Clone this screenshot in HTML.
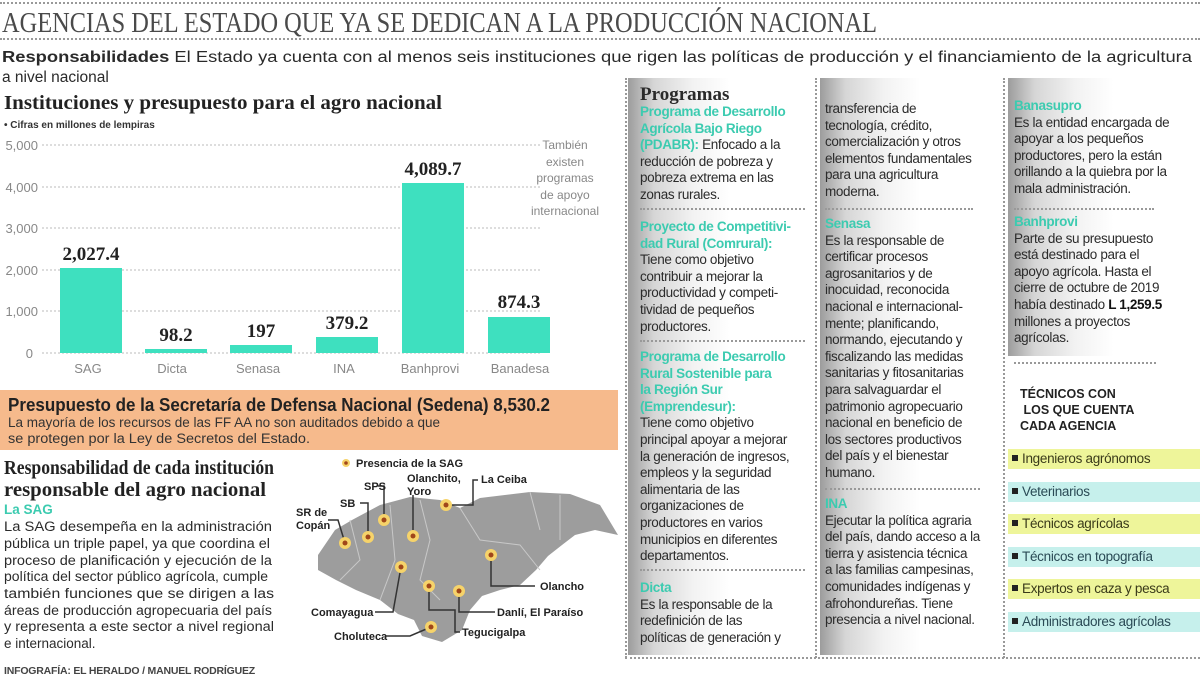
<!DOCTYPE html>
<html><head><meta charset="utf-8">
<style>
*{margin:0;padding:0;box-sizing:border-box}
body{width:1200px;height:682px;overflow:hidden;background:#fff;font-family:"Liberation Sans",sans-serif;color:#2a2a2a;position:relative}
.a{position:absolute;white-space:nowrap}
.t{font-size:13.5px;line-height:16.6px;letter-spacing:-0.35px;color:#2b2b2b}
.g{color:#3ccbb0;font-weight:bold}
.dot{position:absolute;border-top:2px dotted #999;height:0}
.vd{position:absolute;border-left:2px dotted #999;width:0}
.col{position:absolute;top:78px;height:577px;background:linear-gradient(90deg,#9c9c9c 0%,#d6d6d6 14%,#f2f2f2 35%,#fff 55%)}
.serif{font-family:"Liberation Serif",serif;font-weight:bold}
.hl{position:absolute;left:1008px;width:192px;height:20px;font-size:13.5px;line-height:20px;padding-left:4px;letter-spacing:-0.3px}
.hl b{display:inline-block;width:6px;height:6px;background:#222;margin-right:4px;vertical-align:2px}
</style></head><body>

<div class="dot" style="left:0;top:2px;width:1200px"></div>
<svg class="a" style="left:0;top:4px" width="900" height="34"><text x="2" y="28" font-family="Liberation Serif,serif" font-size="29" fill="#4a4a4a" textLength="875" lengthAdjust="spacingAndGlyphs">AGENCIAS DEL ESTADO QUE YA SE DEDICAN A LA PRODUCCIÓN NACIONAL</text></svg>
<div class="dot" style="left:0;top:38px;width:1200px"></div>

<svg class="a" style="left:0;top:46px" width="1200" height="42"><text x="2" y="16" font-size="15.5" fill="#2a2a2a" font-family="Liberation Sans,sans-serif" textLength="1190" lengthAdjust="spacingAndGlyphs"><tspan font-weight="bold">Responsabilidades</tspan> El Estado ya cuenta con al menos seis instituciones que rigen las políticas de producción y el financiamiento de la agricultura</text><text x="2" y="36" font-size="15.5" fill="#2a2a2a" font-family="Liberation Sans,sans-serif">a nivel nacional</text></svg>

<!-- chart -->
<svg class="a" style="left:0;top:88px" width="620" height="300" font-family="Liberation Sans,sans-serif">
<text x="4" y="21" font-family="Liberation Serif,serif" font-weight="bold" font-size="20" fill="#222" textLength="438" lengthAdjust="spacingAndGlyphs">Instituciones y presupuesto para el agro nacional</text>
<text x="4" y="40" font-size="10" font-weight="bold" fill="#333">• Cifras en millones de lempiras</text>
<g stroke="#bbb" stroke-dasharray="2,2" stroke-width="1">
<line x1="42" y1="57" x2="540" y2="57"/><line x1="42" y1="99" x2="540" y2="99"/><line x1="42" y1="140" x2="540" y2="140"/><line x1="42" y1="182" x2="540" y2="182"/><line x1="42" y1="223" x2="540" y2="223"/><line x1="42" y1="265" x2="540" y2="265"/></g>
<g font-size="13" fill="#888" text-anchor="end"><text x="38" y="62">5,000</text><text x="38" y="104">4,000</text><text x="38" y="145">3,000</text><text x="38" y="187">2,000</text><text x="38" y="228">1,000</text><text x="33" y="270">0</text></g>
<g fill="#3ee0bf">
<rect x="60" y="180" width="62" height="85"/><rect x="145" y="261" width="62" height="4"/><rect x="230" y="257" width="62" height="8"/><rect x="316" y="249" width="62" height="16"/><rect x="402" y="95" width="62" height="170"/><rect x="488" y="229" width="62" height="36"/></g>
<g font-family="Liberation Serif,serif" font-weight="bold" font-size="19" fill="#222" text-anchor="middle">
<text x="91" y="172">2,027.4</text><text x="176" y="253">98.2</text><text x="261" y="249">197</text><text x="347" y="241">379.2</text><text x="433" y="87">4,089.7</text><text x="519" y="220">874.3</text></g>
<g font-size="13" fill="#888" text-anchor="middle">
<text x="88" y="285">SAG</text><text x="172" y="285">Dicta</text><text x="258" y="285">Senasa</text><text x="344" y="285">INA</text><text x="430" y="285">Banhprovi</text><text x="520" y="285">Banadesa</text></g>
<g font-size="12" fill="#888" text-anchor="middle">
<text x="565" y="61">También</text><text x="565" y="78">existen</text><text x="565" y="94">programas</text><text x="565" y="111">de apoyo</text><text x="565" y="127">internacional</text></g>
</svg>

<!-- orange box -->
<div class="a" style="left:0;top:390px;width:618px;height:60px;background:#f6ba8c"></div>
<svg class="a" style="left:0;top:390px" width="618" height="60" font-family="Liberation Sans,sans-serif">
<text x="8" y="21" font-weight="bold" font-size="18" fill="#222" textLength="542" lengthAdjust="spacingAndGlyphs">Presupuesto de la Secretaría de Defensa Nacional (Sedena) 8,530.2</text>
<text x="8" y="37" font-size="13.5" fill="#333" textLength="432" lengthAdjust="spacingAndGlyphs">La mayoría de los recursos de las FF AA no son auditados debido a que</text>
<text x="8" y="53" font-size="13.5" fill="#333" textLength="302" lengthAdjust="spacingAndGlyphs">se protegen por la Ley de Secretos del Estado.</text>
</svg>

<svg class="a" style="left:0;top:455px" width="300" height="200" font-family="Liberation Sans,sans-serif">
<text x="4" y="19" font-family="Liberation Serif,serif" font-weight="bold" font-size="20" fill="#222" textLength="270" lengthAdjust="spacingAndGlyphs">Responsabilidad de cada institución</text>
<text x="4" y="41" font-family="Liberation Serif,serif" font-weight="bold" font-size="20" fill="#222" textLength="262" lengthAdjust="spacingAndGlyphs">responsable del agro nacional</text>
<text x="4" y="59" font-size="13.5" font-weight="bold" fill="#3ccbb0">La SAG</text>
<g font-size="13.5" fill="#2b2b2b">
<text x="4" y="76" textLength="268" lengthAdjust="spacingAndGlyphs">La SAG desempeña en la administración</text>
<text x="4" y="93" textLength="266" lengthAdjust="spacingAndGlyphs">pública un triple papel, ya que coordina el</text>
<text x="4" y="110" textLength="268" lengthAdjust="spacingAndGlyphs">proceso de planificación y ejecución de la</text>
<text x="4" y="126" textLength="264" lengthAdjust="spacingAndGlyphs">política del sector público agrícola, cumple</text>
<text x="4" y="143" textLength="270" lengthAdjust="spacingAndGlyphs">también funciones que se dirigen a las</text>
<text x="4" y="160" textLength="268" lengthAdjust="spacingAndGlyphs">áreas de producción agropecuaria del país</text>
<text x="4" y="176" textLength="270" lengthAdjust="spacingAndGlyphs">y representa a este sector a nivel regional</text>
<text x="4" y="193">e internacional.</text></g>
</svg>

<!-- map -->
<svg class="a" style="left:0;top:0" width="620" height="682" font-family="Liberation Sans,sans-serif">
<polygon fill="#9d9d9d" points="318,555 335,530 352,520 380,505 410,497 440,500 460,508 480,498 530,492 570,494 600,505 618,535 595,530 575,535 562,545 548,556 536,570 520,585 500,590 482,596 470,610 462,630 442,642 422,636 414,620 398,614 380,600 356,590 336,580 318,570"/>
<g stroke="#c8c8c8" stroke-width="1" fill="none"><path d="M350,520 L360,560 L340,580"/><path d="M390,505 L395,560 L380,600"/><path d="M420,500 L430,540 L420,580 L440,600"/><path d="M460,508 L480,540 L520,545 L540,570"/><path d="M530,492 L540,530"/><path d="M560,495 L560,540"/></g>
<g stroke="#333" stroke-width="1.5" fill="none">
<polyline points="345,543 338,520 328,520"/><polyline points="368,537 368,503 360,503"/><polyline points="384,520 384,486 378,486"/><polyline points="413,536 413,495"/><polyline points="446,505 473,505 473,480 478,480"/><polyline points="401,567 393,612 375,612"/><polyline points="429,586 429,610 455,610 455,632 460,632"/><polyline points="459,591 459,612 495,612"/><polyline points="491,555 491,586 535,586"/><polyline points="431,627 410,636 385,636"/></g>
<g><circle cx="345" cy="543" r="6" fill="#f6d36a"/><circle cx="368" cy="537" r="6" fill="#f6d36a"/><circle cx="384" cy="520" r="6" fill="#f6d36a"/><circle cx="413" cy="536" r="6" fill="#f6d36a"/><circle cx="446" cy="505" r="6" fill="#f6d36a"/><circle cx="401" cy="567" r="6" fill="#f6d36a"/><circle cx="429" cy="586" r="6" fill="#f6d36a"/><circle cx="459" cy="591" r="6" fill="#f6d36a"/><circle cx="491" cy="555" r="6" fill="#f6d36a"/><circle cx="431" cy="627" r="6" fill="#f6d36a"/><circle cx="346" cy="463" r="4" fill="#f6d36a"/></g>
<g fill="#a0461a"><circle cx="345" cy="543" r="2.5"/><circle cx="368" cy="537" r="2.5"/><circle cx="384" cy="520" r="2.5"/><circle cx="413" cy="536" r="2.5"/><circle cx="446" cy="505" r="2.5"/><circle cx="401" cy="567" r="2.5"/><circle cx="429" cy="586" r="2.5"/><circle cx="459" cy="591" r="2.5"/><circle cx="491" cy="555" r="2.5"/><circle cx="431" cy="627" r="2.5"/><circle cx="346" cy="463" r="1.8"/></g>
<g font-size="11" font-weight="bold" fill="#222">
<text x="356" y="467">Presencia de la SAG</text><text x="364" y="490">SPS</text><text x="407" y="482">Olanchito,</text><text x="407" y="495">Yoro</text><text x="481" y="483">La Ceiba</text><text x="340" y="507">SB</text><text x="296" y="516">SR de</text><text x="296" y="529">Copán</text><text x="540" y="590">Olancho</text><text x="497" y="616">Danlí, El Paraíso</text><text x="311" y="616">Comayagua</text><text x="462" y="636">Tegucigalpa</text><text x="334" y="640">Choluteca</text></g>
</svg>

<div class="a" style="left:4px;top:665px;font-size:10.5px;font-weight:bold;color:#444;letter-spacing:-0.2px">INFOGRAFÍA: EL HERALDO / MANUEL RODRÍGUEZ</div>

<!-- right columns -->
<div class="vd" style="left:625px;top:78px;height:580px"></div>
<div class="vd" style="left:815px;top:78px;height:580px"></div>
<div class="vd" style="left:1003px;top:78px;height:580px"></div>
<div class="dot" style="left:625px;top:657px;width:575px"></div>
<div class="col" style="left:628px;width:185px"></div>
<div class="col" style="left:820px;width:182px"></div>
<div class="col" style="left:1008px;top:78px;width:192px;height:278px"></div>

<div class="a serif" style="left:640px;top:84px;font-size:19px">Programas</div>
<div class="a t" style="left:640px;top:104px"><span class="g">Programa de Desarrollo<br>Agrícola Bajo Riego<br>(PDABR):</span> Enfocado a la<br>reducción de pobreza y<br>pobreza extrema en las<br>zonas rurales.</div>
<div class="dot" style="left:640px;top:208px;width:165px"></div>
<div class="a t" style="left:640px;top:219px"><span class="g">Proyecto de Competitivi-<br>dad Rural (Comrural):</span><br>Tiene como objetivo<br>contribuir a mejorar la<br>productividad y competi-<br>tividad de pequeños<br>productores.</div>
<div class="dot" style="left:640px;top:340px;width:165px"></div>
<div class="a t" style="left:640px;top:349px"><span class="g">Programa de Desarrollo<br>Rural Sostenible para<br>la Región Sur<br>(Emprendesur):</span><br>Tiene como objetivo<br>principal apoyar a mejorar<br>la generación de ingresos,<br>empleos y la seguridad<br>alimentaria de las<br>organizaciones de<br>productores en varios<br>municipios en diferentes<br>departamentos.</div>
<div class="dot" style="left:640px;top:569px;width:165px"></div>
<div class="a t" style="left:640px;top:580px"><span class="g">Dicta</span><br>Es la responsable de la<br>redefinición de las<br>políticas de generación y</div>

<div class="a t" style="left:825px;top:101px">transferencia de<br>tecnología, crédito,<br>comercialización y otros<br>elementos fundamentales<br>para una agricultura<br>moderna.</div>
<div class="dot" style="left:825px;top:208px;width:148px"></div>
<div class="a t" style="left:825px;top:216px"><span class="g">Senasa</span><br>Es la responsable de<br>certificar procesos<br>agrosanitarios y de<br>inocuidad, reconocida<br>nacional e internacional-<br>mente; planificando,<br>normando, ejecutando y<br>fiscalizando las medidas<br>sanitarias y fitosanitarias<br>para salvaguardar el<br>patrimonio agropecuario<br>nacional en beneficio de<br>los sectores productivos<br>del país y el bienestar<br>humano.</div>
<div class="dot" style="left:825px;top:488px;width:155px"></div>
<div class="a t" style="left:825px;top:496px"><span class="g">INA</span><br>Ejecutar la política agraria<br>del país, dando acceso a la<br>tierra y asistencia técnica<br>a las familias campesinas,<br>comunidades indígenas y<br>afrohondureñas. Tiene<br>presencia a nivel nacional.</div>

<div class="a t" style="left:1014px;top:98px"><span class="g">Banasupro</span><br>Es la entidad encargada de<br>apoyar a los pequeños<br>productores, pero la están<br>orillando a la quiebra por la<br>mala administración.</div>
<div class="dot" style="left:1014px;top:208px;width:140px"></div>
<div class="a t" style="left:1014px;top:214px"><span class="g">Banhprovi</span><br>Parte de su presupuesto<br>está destinado para el<br>apoyo agrícola. Hasta el<br>cierre de octubre de 2019<br>había destinado <b style="color:#111">L 1,259.5</b><br>millones a proyectos<br>agrícolas.</div>
<div class="dot" style="left:1014px;top:362px;width:142px"></div>

<div class="a" style="left:1020px;top:386px;font-size:12.5px;font-weight:bold;line-height:16px;color:#222">TÉCNICOS CON<br>&nbsp;LOS QUE CUENTA<br>CADA AGENCIA</div>
<div class="hl" style="top:449px;background:#eef59a;color:#3a3a1a"><b></b>Ingenieros agrónomos</div>
<div class="hl" style="top:482px;background:#c6f0ec;color:#2a4a55"><b></b>Veterinarios</div>
<div class="hl" style="top:514px;background:#eef59a;color:#3a3a1a"><b></b>Técnicos agrícolas</div>
<div class="hl" style="top:547px;background:#c6f0ec;color:#2a4a55"><b></b>Técnicos en topografía</div>
<div class="hl" style="top:579px;background:#eef59a;color:#3a3a1a"><b></b>Expertos en caza y pesca</div>
<div class="hl" style="top:612px;background:#c6f0ec;color:#2a4a55"><b></b>Administradores agrícolas</div>

</body></html>
